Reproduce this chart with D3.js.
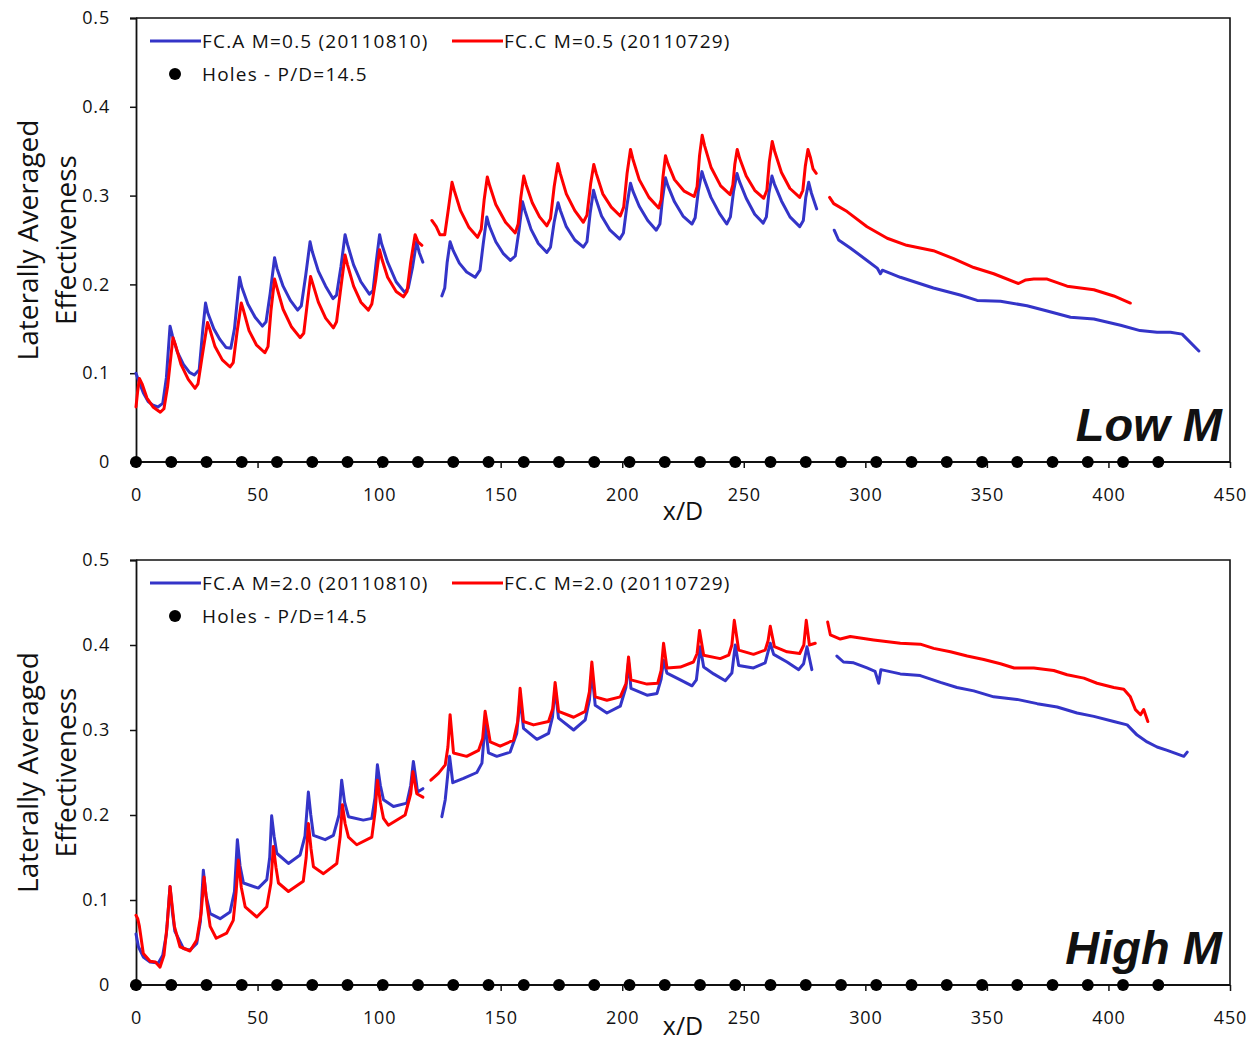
<!DOCTYPE html>
<html lang="en">
<head>
<meta charset="UTF-8">
<title>Laterally Averaged Effectiveness</title>
<style>
  body { margin: 0; background: #fff; }
  svg text { font-family: "Open Sans", Lato, sans-serif; fill: #111; }
</style>
</head>
<body>
<svg id="chart" width="1255" height="1043"></svg>
<script src="https://cdn.jsdelivr.net/npm/d3@7/dist/d3.min.js"></script>
<script>
// hole positions (x/D), pitch P/D = 14.5
const holes = [0, 14.5, 29, 43.5, 58, 72.5, 87, 101.5, 116, 130.5, 145, 159.5, 174, 188.5, 203,
  217.5, 232, 246.5, 261, 275.5, 290, 304.5, 319, 333.5, 348, 362.5, 377, 391.5, 406, 420.5];

const xTicks = [0, 50, 100, 150, 200, 250, 300, 350, 400, 450];
const yTicks = [0, 0.1, 0.2, 0.3, 0.4, 0.5];

// ---- Low M : FC.A M=0.5 (blue) ----
const lowA1 = [[0,0.100],[1,0.092],[3,0.078],[5,0.068],[7,0.064],[9,0.062],[11,0.066],[12.5,0.095],[14,0.153],[15,0.142],[17,0.124],[19.5,0.110],[22,0.101],[24,0.098],[26,0.104],[27.5,0.150],[28.6,0.179],[29.5,0.168],[32,0.150],[34.5,0.138],[37,0.129],[39,0.128],[40.5,0.150],[42.6,0.208],[43.5,0.197],[46,0.178],[49,0.163],[52,0.153],[53.5,0.158],[55.2,0.190],[57,0.230],[58,0.218],[60.5,0.198],[63.5,0.182],[66.5,0.171],[68,0.176],[69.8,0.210],[71.6,0.248],[72.5,0.237],[75,0.215],[78,0.198],[81,0.184],[82.5,0.188],[84.3,0.220],[86,0.256],[87,0.245],[89.5,0.222],[92.5,0.203],[96,0.189],[97.5,0.193],[98.8,0.225],[100.2,0.256],[101,0.246],[103.5,0.225],[107,0.203],[110.5,0.191],[112,0.196],[113.8,0.220],[115.4,0.248],[116.5,0.236],[118,0.225]];
const lowA2 = [[125.8,0.187],[127,0.196],[128,0.225],[129.2,0.248],[130.5,0.238],[133,0.224],[136,0.214],[139.5,0.208],[141.5,0.216],[142.8,0.245],[144.3,0.276],[145.3,0.266],[148,0.248],[151,0.235],[154,0.227],[156,0.232],[157.5,0.260],[159,0.293],[160,0.283],[162.5,0.262],[165.5,0.246],[169,0.236],[170.5,0.242],[172,0.270],[173.6,0.292],[174.6,0.283],[177,0.265],[180.5,0.250],[184,0.242],[185.5,0.248],[186.8,0.280],[188.2,0.306],[189.2,0.296],[191.5,0.277],[195,0.261],[199,0.251],[200.5,0.258],[202,0.290],[203.4,0.314],[204.4,0.305],[207,0.288],[210.5,0.272],[214,0.261],[215.5,0.268],[216.5,0.295],[217.8,0.320],[218.8,0.311],[221.5,0.293],[225,0.277],[228.7,0.268],[230,0.275],[231.3,0.305],[232.8,0.327],[233.8,0.318],[236.5,0.298],[240,0.280],[243,0.268],[244.5,0.276],[245.8,0.305],[247.2,0.325],[248.2,0.316],[251,0.297],[254.5,0.279],[258,0.269],[259.3,0.276],[260.3,0.302],[261.6,0.322],[262.6,0.313],[265.5,0.294],[269,0.276],[273,0.265],[274.5,0.272],[275.5,0.298],[276.7,0.315],[277.8,0.303],[280,0.285]];
const lowA3 = [[287.2,0.261],[289,0.250],[293.8,0.241],[300.7,0.227],[305,0.218],[306.2,0.212],[307,0.216],[314.4,0.208],[328,0.196],[339,0.188],[346,0.182],[355.6,0.181],[366.5,0.176],[374.8,0.170],[384.4,0.163],[394,0.161],[405,0.154],[413,0.148],[420,0.146],[425.5,0.146],[430.3,0.144],[437.2,0.125]];

// ---- Low M : FC.C M=0.5 (red) ----
const lowC1 = [[0,0.062],[0.7,0.080],[1.4,0.094],[2.5,0.088],[4.5,0.072],[7,0.062],[10,0.056],[11.5,0.060],[13,0.085],[15.2,0.140],[16.2,0.132],[18.5,0.110],[21.5,0.093],[24.3,0.083],[25.5,0.088],[27,0.115],[29.4,0.157],[30.3,0.150],[32.5,0.130],[35.5,0.115],[38.7,0.107],[40,0.112],[41.5,0.145],[43.3,0.179],[44.3,0.170],[46.5,0.148],[49.5,0.132],[53,0.123],[54.3,0.130],[55.5,0.170],[57,0.206],[58,0.196],[60.5,0.172],[64,0.152],[67.5,0.140],[69,0.145],[70.3,0.175],[71.8,0.209],[72.8,0.200],[75,0.180],[78,0.162],[81.2,0.151],[82.5,0.158],[84.2,0.195],[86,0.233],[87,0.222],[89.5,0.198],[92.5,0.180],[95.6,0.171],[97,0.178],[98.6,0.205],[100.2,0.239],[101.2,0.228],[103.5,0.208],[107,0.192],[110,0.186],[111.5,0.192],[113,0.225],[114.8,0.256],[116,0.248],[117.6,0.244]];
const lowC2 = [[121.7,0.272],[123.5,0.265],[125,0.256],[127,0.256],[128.5,0.285],[130,0.315],[131,0.305],[133.5,0.283],[137,0.264],[140.5,0.253],[142,0.262],[143.2,0.295],[144.5,0.321],[145.5,0.311],[148,0.290],[152,0.270],[156,0.258],[157.2,0.268],[158.3,0.298],[159.5,0.322],[160.5,0.312],[163,0.292],[166,0.276],[169,0.266],[170.5,0.274],[172,0.310],[173.5,0.336],[174.5,0.325],[177,0.302],[180.5,0.283],[184,0.270],[185.5,0.278],[187,0.313],[188.3,0.335],[189.3,0.325],[192,0.302],[195.5,0.287],[199.2,0.277],[200.6,0.287],[202,0.325],[203.4,0.352],[204.4,0.341],[207,0.318],[211,0.298],[215,0.286],[216,0.295],[216.8,0.322],[217.8,0.345],[218.8,0.336],[221.5,0.318],[225.5,0.305],[229.6,0.299],[230.8,0.310],[231.8,0.345],[232.9,0.368],[233.9,0.356],[236.5,0.332],[240.5,0.311],[244.4,0.301],[245.5,0.312],[246.3,0.335],[247.3,0.352],[248.3,0.342],[251,0.322],[254.5,0.306],[258.2,0.297],[259.5,0.306],[260.5,0.338],[261.7,0.361],[262.7,0.350],[265.5,0.326],[269,0.308],[273,0.298],[274.3,0.306],[275.3,0.333],[276.4,0.352],[277.5,0.342],[278.5,0.330],[279.8,0.325]];
const lowC3 = [[285.3,0.298],[287,0.291],[292.5,0.282],[300.7,0.265],[309,0.252],[317,0.244],[328,0.238],[336.3,0.229],[344.6,0.219],[352.8,0.212],[363,0.201],[366,0.205],[369.3,0.206],[374.8,0.206],[383,0.198],[394,0.194],[402.2,0.187],[409,0.179]];

// ---- High M : FC.A M=2.0 (blue) ----
const highA1 = [[0,0.060],[1,0.045],[3,0.033],[5.8,0.027],[9.2,0.026],[11,0.035],[12.5,0.060],[14,0.116],[15,0.085],[16,0.063],[19.5,0.043],[22.2,0.041],[25,0.049],[26.5,0.075],[27.7,0.135],[28.8,0.105],[30.5,0.084],[34.6,0.078],[38.7,0.086],[40.5,0.110],[41.7,0.171],[42.8,0.140],[44.2,0.120],[50.3,0.114],[53.8,0.124],[55,0.150],[55.8,0.199],[56.8,0.175],[57.9,0.155],[62.7,0.143],[67.5,0.153],[69.5,0.175],[70.9,0.227],[71.9,0.200],[73,0.176],[77.8,0.171],[81.2,0.176],[83.5,0.200],[84.6,0.241],[85.8,0.215],[87.4,0.198],[93.5,0.194],[97,0.196],[98.3,0.220],[99.3,0.259],[100.5,0.235],[101.8,0.218],[105.9,0.210],[111.4,0.214],[113,0.235],[114.1,0.263],[115,0.245],[115.8,0.227],[118,0.231]];
const highA2 = [[125.8,0.198],[127.2,0.218],[129,0.269],[130.3,0.238],[134.7,0.243],[140.2,0.250],[142.3,0.261],[143.6,0.308],[145,0.273],[148.4,0.269],[153.9,0.274],[156.6,0.296],[158,0.337],[159.4,0.302],[164.9,0.289],[169.7,0.296],[171.3,0.315],[172.4,0.349],[173.8,0.314],[180,0.300],[184.8,0.312],[186.5,0.335],[187.5,0.369],[188.9,0.329],[193.7,0.320],[199.2,0.328],[201.5,0.350],[202.6,0.380],[203.6,0.349],[210.2,0.341],[214.3,0.343],[216,0.360],[217,0.382],[218.4,0.367],[223.9,0.359],[228.7,0.352],[230.5,0.359],[232.1,0.398],[233.5,0.374],[237.6,0.366],[242.4,0.358],[245.1,0.367],[246.5,0.400],[247.9,0.376],[254,0.373],[258.8,0.379],[260.9,0.402],[262.3,0.389],[267.8,0.380],[272.6,0.371],[274.6,0.378],[276,0.398],[278,0.371]];
const highA3 = [[288.3,0.387],[291,0.380],[295.2,0.379],[300.7,0.373],[304,0.369],[305.5,0.355],[306.4,0.371],[314.4,0.366],[322.6,0.364],[330.9,0.356],[337.7,0.350],[344.6,0.346],[352.8,0.339],[362.4,0.336],[370.7,0.331],[378.9,0.327],[387.1,0.320],[394,0.316],[402.2,0.310],[407.7,0.306],[411.8,0.294],[415.9,0.286],[420,0.280],[424.2,0.276],[431,0.269],[432.4,0.274]];

// ---- High M : FC.C M=2.0 (red) ----
const highC1 = [[0,0.082],[0.7,0.078],[1.4,0.069],[3,0.037],[5.8,0.028],[8,0.027],[9.9,0.021],[11.5,0.035],[12.8,0.070],[14,0.116],[15,0.090],[15.8,0.069],[18.1,0.045],[22.2,0.040],[25,0.053],[26.8,0.085],[28,0.127],[29.2,0.095],[30.5,0.069],[33,0.055],[37.3,0.061],[40,0.076],[41.2,0.110],[42.1,0.147],[43.3,0.115],[44.9,0.092],[49.7,0.080],[53.8,0.092],[55.5,0.120],[56.5,0.163],[57.6,0.138],[58.6,0.120],[62.7,0.110],[68.8,0.122],[70,0.150],[70.9,0.190],[72,0.160],[73,0.139],[77.1,0.131],[82.6,0.143],[84,0.175],[84.9,0.212],[86,0.190],[87.4,0.174],[90.8,0.165],[97,0.174],[98.4,0.205],[99.3,0.241],[100.5,0.215],[101.8,0.196],[103.8,0.188],[110.7,0.200],[113,0.225],[113.9,0.251],[115.5,0.225],[118,0.221]];
const highC2 = [[121.3,0.241],[124.4,0.249],[127.2,0.259],[128.3,0.280],[129.2,0.318],[130.6,0.273],[136,0.269],[140.9,0.276],[142.6,0.290],[143.6,0.322],[145.7,0.286],[149.8,0.281],[155.3,0.288],[157,0.310],[158,0.349],[159.4,0.310],[163.5,0.306],[169.7,0.310],[171.4,0.325],[172.4,0.356],[173.8,0.322],[180,0.315],[184.8,0.322],[186.5,0.345],[187.5,0.380],[188.9,0.339],[193.7,0.335],[199.2,0.339],[201.6,0.355],[202.6,0.386],[203.6,0.359],[210.2,0.354],[214.6,0.355],[216,0.370],[217,0.402],[218.4,0.373],[223.9,0.374],[229.3,0.380],[230.8,0.390],[231.8,0.417],[233.5,0.388],[240.3,0.384],[243.8,0.388],[245.1,0.400],[246.1,0.429],[247.9,0.394],[254,0.389],[258.8,0.394],[260,0.405],[260.9,0.422],[262.6,0.398],[267.8,0.392],[273,0.390],[274.7,0.400],[275.7,0.429],[277,0.400],[279.4,0.402]];
const highC3 = [[284.5,0.427],[285.6,0.412],[289.7,0.407],[293.8,0.410],[303.4,0.406],[314.4,0.402],[322.6,0.401],[328.1,0.396],[335,0.392],[341.9,0.387],[348.7,0.383],[355.6,0.378],[361.2,0.373],[369.3,0.373],[377.5,0.370],[383,0.365],[389.9,0.361],[395.3,0.355],[402.2,0.350],[406.3,0.348],[409,0.339],[411.1,0.324],[413.2,0.318],[414.5,0.324],[416.2,0.310]];

const BLUE = "#3434c8";
const RED = "#ff0000";

const svg = d3.select("#chart");

const panels = [
  { top: 18, bottom: 462, label: "Low M", xLabelY: 520,
    legA: "FC.A M=0.5 (20110810)", legC: "FC.C M=0.5 (20110729)",
    blue: [lowA1, lowA2, lowA3], red: [lowC1, lowC2, lowC3] },
  { top: 560, bottom: 985, label: "High M", xLabelY: 1035,
    legA: "FC.A M=2.0 (20110810)", legC: "FC.C M=2.0 (20110729)",
    blue: [highA1, highA2, highA3], red: [highC1, highC2, highC3] }
];

const left = 136, right = 1230;
const x = d3.scaleLinear().domain([0, 450]).range([left, right]);

panels.forEach(p => {
  const y = d3.scaleLinear().domain([0, 0.5]).range([p.bottom, p.top]);
  const g = svg.append("g");

  // frame top/right
  g.append("path")
    .attr("d", `M${left},${p.top}H${right}V${p.bottom}`)
    .attr("fill", "none").attr("stroke", "#111").attr("stroke-width", 1.6);

  const yAxis = g.append("g")
    .attr("transform", `translate(${left},0)`)
    .call(d3.axisLeft(y).tickValues(yTicks).tickFormat(d => d === 0 ? "0" : d3.format(".1f")(d)).tickSize(6).tickPadding(20));
  const xAxis = g.append("g")
    .attr("transform", `translate(0,${p.bottom})`)
    .call(d3.axisBottom(x).tickValues(xTicks).tickSize(6).tickPadding(20));

  [xAxis, yAxis].forEach(a => {
    a.select(".domain").attr("stroke", "#111").attr("stroke-width", 1.8);
    a.selectAll(".tick line").attr("stroke", "#111").attr("stroke-width", 1.5);
    a.selectAll("text").style("font-size", "18px").style("letter-spacing", "0.8px").attr("fill", "#111");
  });
  xAxis.select(".domain").attr("d", `M${left},0H${right}`);

  const line = d3.line().x(d => x(d[0])).y(d => y(d[1]));

  p.blue.forEach(seg => g.append("path").datum(seg)
    .attr("d", line).attr("fill", "none").attr("stroke", BLUE)
    .attr("stroke-width", 3).attr("stroke-linejoin", "round").attr("stroke-linecap", "round"));
  p.red.forEach(seg => g.append("path").datum(seg)
    .attr("d", line).attr("fill", "none").attr("stroke", RED)
    .attr("stroke-width", 3).attr("stroke-linejoin", "round").attr("stroke-linecap", "round"));

  g.selectAll("circle.hole").data(holes).enter().append("circle")
    .attr("class", "hole")
    .attr("cx", d => x(d)).attr("cy", y(0)).attr("r", 6).attr("fill", "#000");

  // legend
  const ly = p.top + 23;
  const legFont = sel => sel.style("font-size", "19px").style("letter-spacing", "1.2px");
  g.append("line").attr("x1", 150).attr("x2", 201).attr("y1", ly).attr("y2", ly)
    .attr("stroke", BLUE).attr("stroke-width", 3);
  g.append("text").attr("x", 202).attr("y", ly + 7).call(legFont).text(p.legA);
  g.append("line").attr("x1", 452).attr("x2", 503).attr("y1", ly).attr("y2", ly)
    .attr("stroke", RED).attr("stroke-width", 3);
  g.append("text").attr("x", 504).attr("y", ly + 7).call(legFont).text(p.legC);
  g.append("circle").attr("cx", 175).attr("cy", ly + 33).attr("r", 6).attr("fill", "#000");
  g.append("text").attr("x", 202).attr("y", ly + 40).call(legFont).text("Holes - P/D=14.5");

  // axis titles
  const midY = (p.top + p.bottom) / 2;
  g.append("text")
    .attr("transform", `translate(38,${midY}) rotate(-90)`)
    .attr("text-anchor", "middle").style("font-size", "28px")
    .text("Laterally Averaged");
  g.append("text")
    .attr("transform", `translate(76,${midY}) rotate(-90)`)
    .attr("text-anchor", "middle").style("font-size", "28px")
    .text("Effectiveness");
  g.append("text")
    .attr("x", 683).attr("y", p.xLabelY)
    .attr("text-anchor", "middle").style("font-size", "25px")
    .text("x/D");

  g.append("text")
    .attr("x", 1222).attr("y", p.bottom - 21)
    .attr("text-anchor", "end")
    .style("font-family", "'Liberation Sans', Arial, sans-serif")
    .style("font-weight", "bold").style("font-style", "italic")
    .style("font-size", "47px").attr("fill", "#000")
    .text(p.label);
});
</script>
</body>
</html>
